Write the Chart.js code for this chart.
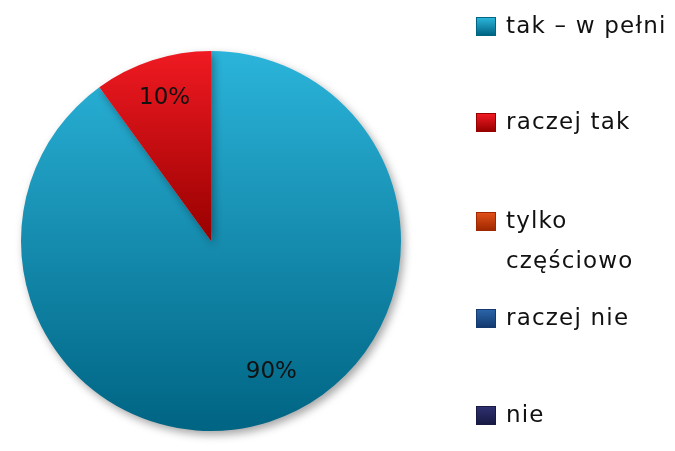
<!DOCTYPE html>
<html>
<head>
<meta charset="utf-8">
<script src="https://cdn.jsdelivr.net/npm/chart.js@4"></script>
<style>
    body { margin: 0; background: #fff; }
    #wrap { position: relative; width: 675px; height: 451px; }
    #legend { position: absolute; left: 0; top: 0; }
    .item {
        position: absolute;
        left: 476px;
        font-family: "DejaVu Sans", Verdana, sans-serif;
        font-size: 23px;
        line-height: 40px;
        letter-spacing: 1.2px;
        color: #111;
        white-space: nowrap;
    }
    .box {
        position: absolute;
        left: 0;
        width: 20px;
        height: 19px;
        box-sizing: border-box;
    }
    .txt { position: absolute; left: 30px; top: 0; }
</style>
</head>
<body>
<div id="wrap">
    <canvas id="chart" width="675" height="451"></canvas>
    <div id="legend"></div>
</div>
<script>
const labels = ['tak – w pełni', 'raczej tak', 'tylko częściowo', 'raczej nie', 'nie'];
const values = [90, 10, 0, 0, 0];
const percentLabels = ['90%', '10%', '', '', ''];

// legend line breaks like the original
const legendLines = [['tak – w pełni'], ['raczej tak'], ['tylko', 'częściowo'], ['raczej nie'], ['nie']];

// colour stops: top, bottom
const sliceColors = [
    ['#2bb4da', '#006483'],
    ['#f01a22', '#980000'],
    ['#e0501a', '#a02800'],
    ['#2a64a8', '#143a70'],
    ['#2e3070', '#181a44']
];

// nudges for percentage labels (px, relative to default spot)
const labelNudge = [[14, -12], [0, 0], [0, 0], [0, 0], [0, 0]];
const legendTops = [5, 101, 200, 297, 394];

function sliceFill(context) {
    const chart = context.chart;
    const area = chart.chartArea;
    const i = context.dataIndex;
    if (!area) return sliceColors[i][0];
    const cy = (area.top + area.bottom) / 2;
    const bottom = i === 0 ? area.bottom : cy;
    const g = chart.ctx.createLinearGradient(0, area.top, 0, bottom);
    g.addColorStop(0, sliceColors[i][0]);
    g.addColorStop(1, sliceColors[i][1]);
    return g;
}

const shadowPlugin = {
    id: 'shadow',
    beforeDatasetDraw(chart) {
        const ctx = chart.ctx;
        ctx.save();
        ctx.shadowColor = 'rgba(0,0,0,0.35)';
        ctx.shadowBlur = 9;
        ctx.shadowOffsetX = 3;
        ctx.shadowOffsetY = 4;
    },
    afterDatasetDraw(chart) {
        chart.ctx.restore();
    }
};

const pctPlugin = {
    id: 'pct',
    afterDatasetsDraw(chart) {
        const ctx = chart.ctx;
        const meta = chart.getDatasetMeta(0);
        ctx.save();
        ctx.font = '23px "DejaVu Sans", Verdana, sans-serif';
        ctx.fillStyle = '#111';
        ctx.textAlign = 'center';
        ctx.textBaseline = 'middle';
        meta.data.forEach((arc, i) => {
            if (!percentLabels[i]) return;
            const p = arc.getProps(['startAngle', 'endAngle', 'outerRadius', 'x', 'y'], true);
            const mid = (p.startAngle + p.endAngle) / 2;
            const r = p.outerRadius * 0.79;
            const x = p.x + Math.cos(mid) * r + labelNudge[i][0];
            const y = p.y + Math.sin(mid) * r + labelNudge[i][1];
            ctx.fillText(percentLabels[i], x, y);
        });
        ctx.restore();
    }
};

new Chart(document.getElementById('chart'), {
    type: 'pie',
    data: {
        labels: labels,
        datasets: [{
            data: values,
            backgroundColor: sliceFill,
            borderWidth: 0,
            hoverOffset: 0
        }]
    },
    options: {
        responsive: false,
        animation: false,
        devicePixelRatio: 1,
        layout: { padding: { left: 21, right: 274, top: 51, bottom: 20 } },
        plugins: {
            legend: { display: false },
            tooltip: { enabled: false }
        }
    },
    plugins: [shadowPlugin, pctPlugin]
});

const legend = document.getElementById('legend');
legendLines.forEach((lines, i) => {
    const item = document.createElement('div');
    item.className = 'item';
    item.style.top = legendTops[i] + 'px';
    const box = document.createElement('div');
    box.className = 'box';
    box.style.top = '12px';
    box.style.background = 'linear-gradient(' + sliceColors[i][0] + ', ' + sliceColors[i][1] + ')';
    box.style.border = '1px solid ' + sliceColors[i][1];
    item.appendChild(box);
    const txt = document.createElement('div');
    txt.className = 'txt';
    txt.innerHTML = lines.join('<br>');
    item.appendChild(txt);
    legend.appendChild(item);
});
</script>
</body>
</html>
